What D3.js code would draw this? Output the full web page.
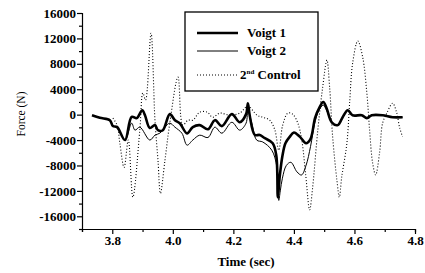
<!DOCTYPE html>
<html>
<head>
<meta charset="utf-8">
<script src="https://cdn.jsdelivr.net/npm/d3@7"></script>
<style>
  body { margin: 0; background: #fff; }
  svg text { font-family: "Liberation Serif", "DejaVu Serif", serif; fill: #000; }
</style>
</head>
<body>
<div class="chart"></div>
<script>
// Voigt 1 (heavy line)
const voigt1Time = [3.733, 3.759, 3.792, 3.802, 3.816, 3.842, 3.864, 3.881, 3.899, 3.908, 3.924, 3.941, 3.951, 3.967,
    3.990, 4.007, 4.023, 4.047, 4.066, 4.089, 4.116, 4.139, 4.162, 4.195, 4.221, 4.242, 4.248, 4.254, 4.271, 4.287,
    4.304, 4.330, 4.342, 4.347, 4.353, 4.362, 4.372, 4.386, 4.400, 4.420, 4.440, 4.455, 4.470, 4.485, 4.497, 4.508,
    4.525, 4.545, 4.561, 4.578, 4.594, 4.624, 4.641, 4.657, 4.693, 4.726, 4.759];
const voigt1Force = [-100, -500, -870, -1800, -1970, -4000, -350, -550, 700, -100, -2100, -1650, -2450, -2450,
    80, -870, -1350, -2950, -1950, -1650, -2300, -870, -1800, 80, -1200, 80, 1800, -150, -3200, -3200,
    -3700, -4500, -6500, -13000, -9800, -6500, -4500, -3500, -2800, -3500, -4500, -3800, -500, 1200, 2000, 1000,
    -1200, -1650, -400, 700, -100, -100, -550, -100, -100, -400, -400];

// Voigt 2 (thin line)
const voigt2Time = [3.733, 3.759, 3.792, 3.802, 3.816, 3.842, 3.864, 3.875, 3.891, 3.924, 3.941, 3.957, 3.974, 3.990,
    4.007, 4.030, 4.047, 4.066, 4.089, 4.116, 4.139, 4.162, 4.195, 4.221, 4.242, 4.248, 4.261, 4.277, 4.297, 4.327,
    4.344, 4.350, 4.355, 4.362, 4.375, 4.390, 4.410, 4.425, 4.440, 4.455, 4.468, 4.482, 4.497, 4.508, 4.525, 4.545,
    4.561, 4.578, 4.594, 4.624, 4.641, 4.657, 4.693, 4.726, 4.759];
const voigt2Force = [-100, -500, -870, -1800, -1970, -4000, -1340, -2440, -1970, -4000, -3230, -2920, -1970, -1340,
    -1970, -2920, -4800, -4000, -3230, -3600, -1970, -2920, -1200, -2440, -1340, 700, -1340, -4000, -4300, -5600,
    -8300, -13500, -12000, -10000, -8000, -7500, -9000, -9500, -8000, -5000, -1500, 600, 1500, 700, -1200, -1650,
    -400, 700, -100, -100, -550, -100, -100, -400, -400];

// 2nd Control (dotted)
const controlTime = [3.802, 3.816, 3.825, 3.839, 3.853, 3.868, 3.891, 3.901, 3.910, 3.928, 3.941, 3.951, 3.959, 3.974,
    3.990, 4.017, 4.033, 4.050, 4.066, 4.089, 4.113, 4.132, 4.155, 4.188, 4.221, 4.248, 4.278, 4.297, 4.320, 4.337,
    4.350, 4.363, 4.380, 4.396, 4.413, 4.426, 4.439, 4.452, 4.462, 4.479, 4.495, 4.509, 4.518, 4.528, 4.542, 4.550,
    4.558, 4.575, 4.584, 4.594, 4.611, 4.627, 4.641, 4.650, 4.660, 4.670, 4.683, 4.693, 4.707, 4.726, 4.739, 4.749, 4.759];
const controlForce = [-550, -1650, -4500, -8300, -4000, -13000, -2400, 3400, 2300, 12800, -870, -7200, -12400, -7200,
    -1340, 5900, -1650, -870, -870, 400, 400, -400, 240, -80, 240, 1340, -80, -400, -870, -2400,
    -5600, -1650, 240, 80, -1340, -4000, -9500, -15000, -11400, -2400, 4300, 8600, 4300, -3500, -10300, -13000,
    -9800, -4500, 1800, 8100, 11600, 9100, 3400, -2400, -7600, -9500, -6000, -1340, 240, 1800, 400, -2000, -3500];

const yTicks = [16000, 12000, 8000, 4000, 0, -4000, -8000, -12000, -16000];
const xTicks = [3.8, 4.0, 4.2, 4.4, 4.6, 4.8];
const seriesNames = ["Voigt 1", "Voigt 2", "2nd Control"];

const width = 425;
const height = 273;

const x = d3.scaleLinear().domain([3.7, 4.8]).range([82, 415]);
const y = d3.scaleLinear().domain([-18000, 16000]).range([229, 13]);

const svg = d3.select(".chart").append("svg")
    .attr("width", width)
    .attr("height", height);

const series = [
    { name: seriesNames[0], t: voigt1Time, f: voigt1Force, width: 2.6, dash: null },
    { name: seriesNames[1], t: voigt2Time, f: voigt2Force, width: 1, dash: null },
    { name: seriesNames[2], t: controlTime, f: controlForce, width: 1.1, dash: "1,2" }
];

const line = d3.line()
    .x(d => x(d[0]))
    .y(d => y(d[1]))
    .curve(d3.curveCatmullRom.alpha(0.5));

svg.append("g")
    .selectAll("path")
    .data(series)
    .enter()
    .append("path")
    .attr("d", s => line(s.t.map((t, i) => [t, s.f[i]])))
    .attr("fill", "none")
    .attr("stroke", "#000")
    .attr("stroke-width", s => s.width)
    .attr("stroke-dasharray", s => s.dash)
    .attr("stroke-linejoin", "round");

// axes
const yAxis = d3.axisLeft(y)
    .tickValues(d3.range(-18000, 16001, 2000))
    .tickSize(3)
    .tickFormat(d => yTicks.includes(d) ? d : "");
const xAxis = d3.axisBottom(x)
    .tickValues(d3.range(3.7, 4.81, 0.1).map(v => +v.toFixed(1)))
    .tickSize(3)
    .tickFormat(d => xTicks.includes(d) ? d.toFixed(1) : "");

const gy = svg.append("g").attr("transform", "translate(82,0)").call(yAxis);
const gx = svg.append("g").attr("transform", "translate(0,229)").call(xAxis);

[gy, gx].forEach(g => {
    g.selectAll(".domain").attr("stroke", "#000").attr("stroke-width", 1.2);
    g.selectAll(".tick line").attr("stroke", "#000").attr("stroke-width", 1.2);
    g.selectAll(".tick text")
        .attr("fill", "#000")
        .style("font-size", "13px")
        .style("font-weight", "bold")
        .style("font-family", "'Liberation Serif', serif");
});
gy.selectAll(".tick line").filter(d => yTicks.includes(d)).attr("x2", -5);
gx.selectAll(".tick line").filter(d => xTicks.includes(d)).attr("y2", 5);
gy.selectAll(".tick text").attr("x", -6);
gx.selectAll(".tick text").attr("y", 7);

svg.append("text")
    .attr("transform", "translate(25,114) rotate(-90)")
    .attr("text-anchor", "middle")
    .style("font-size", "11.5px")
    .text("Force (N)");

svg.append("text")
    .attr("x", 246)
    .attr("y", 266)
    .attr("text-anchor", "middle")
    .style("font-size", "13px")
    .style("font-weight", "bold")
    .text("Time (sec)");

// legend
const legend = svg.append("g");
legend.append("rect")
    .attr("x", 185).attr("y", 12)
    .attr("width", 133).attr("height", 79)
    .attr("fill", "#fff")
    .attr("stroke", "#000")
    .attr("stroke-width", 1.3);

const legendY = [33, 51, 75];
series.forEach((s, i) => {
    legend.append("line")
        .attr("x1", 197).attr("x2", 238)
        .attr("y1", legendY[i]).attr("y2", legendY[i])
        .attr("stroke", "#000")
        .attr("stroke-width", s.width)
        .attr("stroke-dasharray", s.dash);
    const txt = legend.append("text")
        .attr("x", 247)
        .attr("y", legendY[i] + 4)
        .style("font-size", "13px")
        .style("font-weight", "bold");
    if (i === 2) {
        txt.append("tspan").attr("x", 240).text("2");
        txt.append("tspan").attr("dy", -5).style("font-size", "7px").text("nd");
        txt.append("tspan").attr("dy", 5).text(" Control");
    } else {
        txt.text(s.name);
    }
});
</script>
</body>
</html>
